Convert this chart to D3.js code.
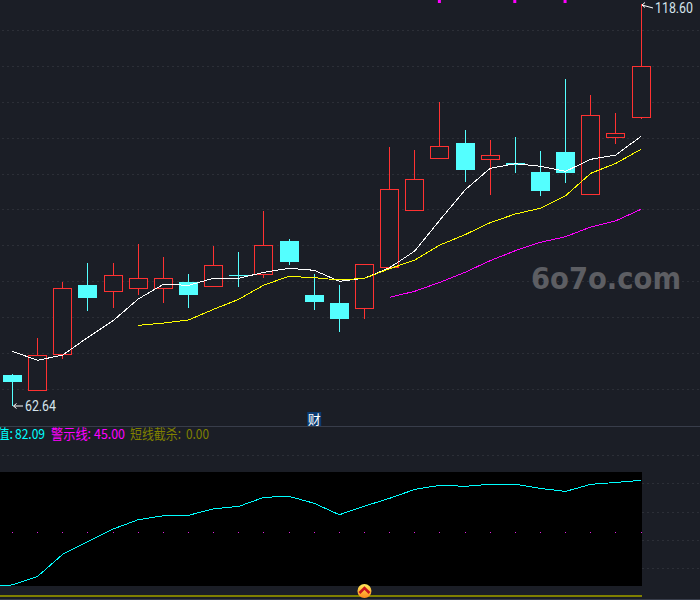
<!DOCTYPE html>
<html>
<head>
<meta charset="utf-8">
<script src="https://d3js.org/d3.v7.min.js"></script>
<style>
  body { margin: 0; background: #1b1e26; overflow: hidden; }
  svg { display: block; }
</style>
</head>
<body>
<svg id="chart" width="700" height="600"></svg>
<script>
// candle data
const opens  = [66.96, 64.80, 69.88, 79.48, 78.55, 79.02, 78.97, 79.90, 79.25, 80.83, 80.92, 85.61, 78.09, 76.98, 76.18, 81.95, 89.83, 97.06, 99.25, 96.93, 96.47, 95.21, 98.00, 92.05, 99.99, 102.77];
const closes = [65.98, 69.67, 79.00, 77.67, 80.83, 80.42, 80.42, 78.13, 82.23, 80.74, 85.01, 82.68, 77.12, 74.75, 82.37, 92.81, 94.20, 98.79, 95.49, 97.54, 96.19, 92.57, 95.07, 103.11, 100.60, 109.93];
const highs  = [67.09, 72.11, 79.90, 82.55, 82.55, 85.19, 83.38, 81.01, 84.91, 84.08, 89.78, 85.89, 81.01, 79.48, 82.37, 98.69, 98.28, 104.96, 101.06, 99.67, 100.08, 98.14, 108.16, 105.93, 103.43, 118.60];
const lows   = [62.64, 64.66, 69.25, 75.91, 76.32, 78.13, 77.02, 76.32, 79.25, 79.25, 80.50, 82.31, 76.00, 72.98, 74.79, 81.95, 89.83, 97.06, 93.82, 92.01, 95.07, 91.87, 93.68, 92.05, 99.11, 102.59];

// moving averages (null until the line starts)
const maWhite = [70.25, 69.00, 69.74, 72.20, 74.51, 77.53, 79.58, 79.44, 80.42, 80.42, 81.25, 81.81, 81.53, 80.00, 80.42, 81.89, 84.22, 88.53, 92.71, 95.73, 96.37, 96.01, 95.31, 96.98, 97.58, 100.18];
const maYellow = [null, null, null, null, null, 73.87, 74.19, 74.61, 76.10, 77.49, 79.48, 80.69, 80.50, 80.18, 80.42, 81.75, 82.96, 85.05, 86.49, 88.16, 89.37, 90.16, 91.91, 95.03, 96.42, 98.37];
const maMagenta = [null, null, null, null, null, null, null, null, null, null, null, null, null, null, null, 77.77, 78.61, 79.86, 81.25, 82.87, 84.26, 85.43, 86.21, 87.56, 88.43, 90.02];

// lower panel, first entry is the bar just off the left edge
const indicator = [8.0, 8.2, 14.3, 29.9, 38.8, 47.7, 54.3, 57.1, 57.4, 62.0, 63.7, 70.1, 70.8, 65.9, 57.8, 63.9, 69.4, 75.7, 78.6, 77.9, 79.3, 79.3, 76.4, 74.3, 79.3, 80.6, 82.09];
const warnLine = 45;
const killLine = 0;

const priceTicks = [115, 110, 105, 100, 95, 90, 85, 80, 75, 70, 65];
const lowerTicks = [100, 80, 60, 40, 20];
const topFlags = [17, 20, 22];
const financeBadge = 12;
const signalBall = 14;
const highIdx = 25, lowIdx = 0;

const legendText = [
    {label: "值:", x: -3, w: 16, color: "#00ffff"},
    {label: "82.09", x: 15, w: 30, color: "#00ffff"},
    {label: "警示线:", x: 51, w: 40, color: "#ff00ff"},
    {label: "45.00", x: 94, w: 31, color: "#ff00ff"},
    {label: "短线截杀:", x: 130, w: 51, color: "#808000"},
    {label: "0.00", x: 186, w: 23, color: "#808000"}
];

const red = "#ff3232", cyan = "#54ffff", gridColor = "#2c2f37";
const idx = d3.range(opens.length);

const svg = d3.select("#chart");

const x = d3.scaleLinear().domain([0, 25]).range([12.5, 641]);
const y = d3.scaleLinear().domain([62.64, 118.60]).range([406, 4]);
const yLow = d3.scaleLinear().domain([0, 100]).range([596.6, 455]);

// grid
svg.append("g").selectAll("line")
    .data(priceTicks)
    .enter().append("line")
    .attr("x1", 2).attr("x2", 700)
    .attr("y1", d => Math.round(y(d)) + 0.5)
    .attr("y2", d => Math.round(y(d)) + 0.5)
    .attr("stroke", gridColor)
    .attr("stroke-dasharray", "2,3");

svg.append("g").selectAll("line")
    .data(lowerTicks)
    .enter().append("line")
    .attr("x1", 2).attr("x2", 700)
    .attr("y1", d => Math.round(yLow(d)) + 0.5)
    .attr("y2", d => Math.round(yLow(d)) + 0.5)
    .attr("stroke", gridColor)
    .attr("stroke-dasharray", "2,3");

// watermark
svg.append("text")
    .attr("x", 531).attr("y", 289)
    .attr("textLength", 150)
    .attr("lengthAdjust", "spacingAndGlyphs")
    .attr("font-family", "'DejaVu Sans'")
    .attr("font-weight", "bold")
    .attr("font-size", 31)
    .attr("fill", "#5d5e63")
    .text("6o7o.com");

// candles
const candles = svg.append("g").attr("shape-rendering", "crispEdges");

candles.selectAll("line.wick")
    .data(idx)
    .enter().append("line")
    .attr("class", "wick")
    .attr("x1", i => Math.floor(x(i)) + 0.5)
    .attr("x2", i => Math.floor(x(i)) + 0.5)
    .attr("y1", i => y(highs[i]))
    .attr("y2", i => y(lows[i]))
    .attr("stroke", i => closes[i] >= opens[i] ? red : cyan);

candles.selectAll("rect.body")
    .data(idx)
    .enter().append("rect")
    .attr("class", "body")
    .attr("x", i => Math.floor(x(i)) - 9 + (closes[i] >= opens[i] ? 0.5 : 0))
    .attr("width", i => closes[i] >= opens[i] ? 18 : 19)
    .attr("y", i => Math.round(y(Math.max(opens[i], closes[i]))) + (closes[i] >= opens[i] ? 0.5 : 0))
    .attr("height", i => Math.max(1, Math.round(y(Math.min(opens[i], closes[i])) - y(Math.max(opens[i], closes[i])))))
    .attr("fill", i => closes[i] >= opens[i] ? "#1b1e26" : cyan)
    .attr("stroke", i => closes[i] >= opens[i] ? red : "none");

// moving average lines
const maLine = d3.line()
    .defined(d => d !== null)
    .x((d, i) => x(i))
    .y(d => y(d));

[[maWhite, "#ffffff"], [maYellow, "#ffff00"], [maMagenta, "#ff00ff"]].forEach(([values, color]) => {
    svg.append("path")
        .attr("d", maLine(values))
        .attr("fill", "none")
        .attr("stroke", color)
        .attr("shape-rendering", "crispEdges");
});

// high / low labels with little arrows
function priceLabel(px, py, textX, width, value, tipY) {
    svg.append("path")
        .attr("d", `M${px + 1},${tipY} L${textX - 2},${py} M${px + 1},${tipY} l3,-2.5 M${px + 1},${tipY} l3,2.5`)
        .attr("fill", "none")
        .attr("stroke", "#ffffff");
    svg.append("text")
        .attr("x", textX).attr("y", py + 5)
        .attr("textLength", width)
        .attr("lengthAdjust", "spacingAndGlyphs")
        .attr("font-family", "Roboto")
        .attr("font-size", 14)
        .attr("fill", "#d5e4ec")
        .text(value.toFixed(2));
}
priceLabel(x(highIdx), y(highs[highIdx]) + 4, 655, 38, highs[highIdx], y(highs[highIdx]) + 1);
priceLabel(x(lowIdx), y(lows[lowIdx]), 25, 31, lows[lowIdx], y(lows[lowIdx]));

// flags along the top edge
svg.append("g").selectAll("rect")
    .data(topFlags)
    .enter().append("rect")
    .attr("x", i => x(i) - 2)
    .attr("y", 0)
    .attr("width", 3)
    .attr("height", 3)
    .attr("fill", "#ff00ff");

// panel separators
svg.append("rect").attr("x", 0).attr("y", 426).attr("width", 700).attr("height", 1).attr("fill", "#383d4a");
svg.append("rect").attr("x", 0).attr("y", 599).attr("width", 700).attr("height", 1).attr("fill", "#383d4a");

// finance badge
const badgeX = x(financeBadge);
svg.append("rect")
    .attr("x", badgeX - 7).attr("y", 412)
    .attr("width", 14).attr("height", 14)
    .attr("fill", "#0c3a70");
svg.append("text")
    .attr("x", badgeX).attr("y", 424)
    .attr("text-anchor", "middle")
    .attr("font-family", "'Noto Sans CJK SC'")
    .attr("font-size", 13)
    .attr("fill", "#ffffff")
    .text("财");

// legend row
svg.append("g").selectAll("text")
    .data(legendText)
    .enter().append("text")
    .attr("x", d => d.x)
    .attr("y", 439)
    .attr("textLength", d => d.w)
    .attr("lengthAdjust", "spacingAndGlyphs")
    .attr("font-family", "'Noto Sans CJK SC'")
    .attr("font-size", 14)
    .attr("fill", d => d.color)
    .text(d => d.label);

// lower panel
svg.append("rect")
    .attr("x", 0).attr("y", 472)
    .attr("width", x(25) + 1)
    .attr("height", 114)
    .attr("fill", "#000000");

svg.append("g").selectAll("rect")
    .data(idx)
    .enter().append("rect")
    .attr("x", i => Math.floor(x(i)))
    .attr("y", Math.floor(yLow(warnLine)))
    .attr("width", 1).attr("height", 1)
    .attr("fill", "#e020e0");

svg.append("path")
    .attr("d", d3.line().x((d, i) => x(i - 1)).y(d => yLow(d))(indicator))
    .attr("fill", "none")
    .attr("stroke", "#00ffff")
    .attr("shape-rendering", "crispEdges");

// zero line
svg.append("rect")
    .attr("x", 0).attr("y", yLow(killLine) - 1.6)
    .attr("width", x(25) + 1)
    .attr("height", 2)
    .attr("fill", "#808000");

// signal ball
const ballGrad = svg.append("defs").append("linearGradient")
    .attr("id", "ball").attr("x1", 0).attr("x2", 0).attr("y1", 0).attr("y2", 1);
ballGrad.append("stop").attr("offset", "0%").attr("stop-color", "#ffe95a");
ballGrad.append("stop").attr("offset", "100%").attr("stop-color", "#ff8a1c");

const ball = svg.append("g").attr("transform", `translate(${x(signalBall)},591)`);
ball.append("circle").attr("r", 7).attr("fill", "url(#ball)");
ball.append("path")
    .attr("d", "M-5,2 L0,-3 L5,2")
    .attr("fill", "none")
    .attr("stroke", "#c8141c")
    .attr("stroke-width", 2.5);
</script>
</body>
</html>
